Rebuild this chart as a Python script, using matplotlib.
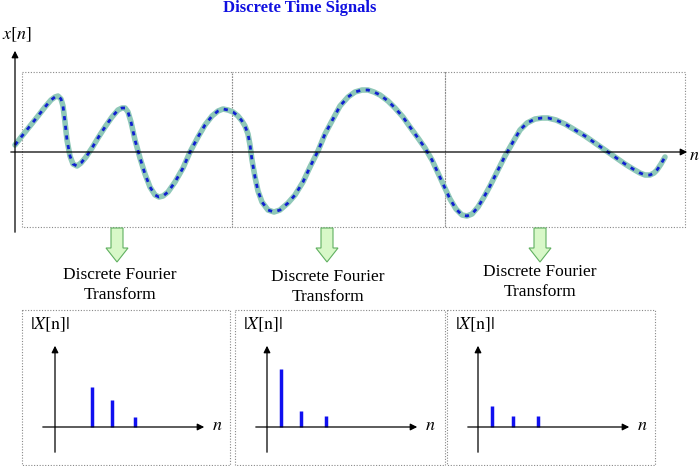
import matplotlib
matplotlib.use("Agg")
import matplotlib.pyplot as plt
from matplotlib.patches import Rectangle, FancyArrow
plt.rcParams['mathtext.fontset'] = 'stix'

# Signal samples (pixel coords)
sig_x = [15,22,30,38,45,51,55,58,61,63,65,67,70,73,77,81,86,92,98,105,112,118,122,125,128,131,135,140,145,150,155,159,163,168,175,183,190,198,205,212,218,223,228,233,238,242,245,248,250,252,255,258,262,268,274,280,288,295,303,310,318,325,333,340,348,355,362,368,374,380,388,395,403,410,418,425,432,438,444,450,456,462,467,472,478,484,490,498,505,513,520,527,535,542,548,556,565,575,585,595,605,615,625,633,640,645,650,654,657,661,665]
sig_y = [145,136,126,116,107,100,97,96,99,106,122,140,156,164,166,163,157,148,138,127,117,110,108,108,112,122,140,158,174,187,195,197,196,192,182,168,152,137,125,116,111,109,110,112,116,121,126,134,145,160,177,191,202,210,212,210,203,195,182,167,151,134,119,106,97,92,90,90,92,95,101,108,117,127,138,148,160,173,186,199,209,215,216,214,207,197,186,170,156,142,130,123,119,118,118,120,124,130,136,143,150,157,164,169,173,175,175,173,170,164,157]

# DFT stems per panel
stem_x = [[92,112,135],[281,301,326],[492,513,538]]
stem_top = [[387,400,417],[369,411,416],[406,416,416]]
panel_axis_x = [55,267,478]
panel_boxes = [(22,310,208,155),(235,310,210,155),(447,310,208,155)]
arrow_x = [117,327,540]
label_pos = [(120,285),(328,287),(540,282)]

fig = plt.figure(figsize=(7,4.66), dpi=100)
ax = fig.add_axes([0,0,1,1])
ax.set_xlim(0,700); ax.set_ylim(466,0); ax.axis('off')
serif = 'Liberation Serif'

ax.text(300,8,'Discrete Time Signals',color='#1010e0',fontweight='bold',fontsize=12,family=serif,ha='center',va='center')
for (x0,x1) in [(22,232),(232,445),(445,685)]:
    ax.add_patch(Rectangle((x0,72),x1-x0,155,fill=False,ls=(0,(1,1.5)),lw=0.8,ec='#888888'))
ax.annotate('',xy=(690,152),xytext=(8,152),arrowprops=dict(arrowstyle='-|>',color='k',lw=0.9,mutation_scale=10))
ax.annotate('',xy=(15,48),xytext=(15,235),arrowprops=dict(arrowstyle='-|>',color='k',lw=0.9,mutation_scale=10))
ax.text(2,35,'$x[n]$',fontsize=13,ha='left',va='center')
ax.text(694,155,'$n$',fontsize=13,ha='center',va='center')
ax.plot(sig_x,sig_y,color='#8fc8b8',lw=4,solid_capstyle='round')
ax.plot(sig_x,sig_y,color='#1020d0',lw=2,ls=(0,(1.5,2)))

for xa,(lx,ly) in zip(arrow_x,label_pos):
    ax.add_patch(FancyArrow(xa,228,0,34,width=12,head_width=22,head_length=14,length_includes_head=True,fc='#d8f8c8',ec='#60b060',lw=0.8))
    ax.text(lx,ly,'Discrete Fourier\nTransform',fontsize=12.5,family=serif,ha='center',va='center',linespacing=1.3)

for (bx,by,bw,bh),axx,sx,st in zip(panel_boxes,panel_axis_x,stem_x,stem_top):
    ax.add_patch(Rectangle((bx,by),bw,bh,fill=False,ls=(0,(1,1.5)),lw=0.8,ec='#888888'))
    ax.annotate('',xy=(bx+185,427),xytext=(bx+18,427),arrowprops=dict(arrowstyle='-|>',color='k',lw=0.9,mutation_scale=10))
    ax.annotate('',xy=(axx,343),xytext=(axx,455),arrowprops=dict(arrowstyle='-|>',color='k',lw=0.9,mutation_scale=10))
    ax.text(bx+8,325,'$|X[\\mathrm{n}]|$',fontsize=13,ha='left',va='center')
    ax.text(bx+195,425,'$n$',fontsize=13,ha='center',va='center')
    for x,t in zip(sx,st):
        ax.plot([x,x],[427,t],color='#1010f0',lw=2.5,solid_capstyle='butt')

fig.savefig('out.png',dpi=100)
